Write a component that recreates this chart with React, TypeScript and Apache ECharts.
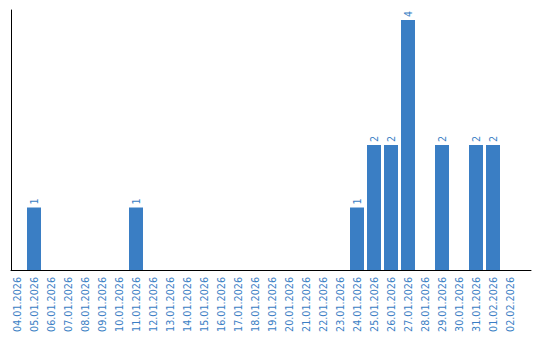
import React, { useEffect, useRef } from "react";
import * as echarts from "echarts";

const categories = [
  "04.01.2026", "05.01.2026", "06.01.2026", "07.01.2026", "08.01.2026",
  "09.01.2026", "10.01.2026", "11.01.2026", "12.01.2026", "13.01.2026",
  "14.01.2026", "15.01.2026", "16.01.2026", "17.01.2026", "18.01.2026",
  "19.01.2026", "20.01.2026", "21.01.2026", "22.01.2026", "23.01.2026",
  "24.01.2026", "25.01.2026", "26.01.2026", "27.01.2026", "28.01.2026",
  "29.01.2026", "30.01.2026", "31.01.2026", "01.02.2026", "02.02.2026",
];
const values = [
  0, 1, 0, 0, 0, 0, 0, 1, 0, 0,
  0, 0, 0, 0, 0, 0, 0, 0, 0, 0,
  1, 2, 2, 4, 0, 2, 0, 2, 2, 0,
];

const BLUE = "#3a7ec4";
const FONT = "'DejaVu Sans', Verdana, sans-serif";

export default function App() {
  const ref = useRef<HTMLDivElement>(null);
  useEffect(() => {
    if (!ref.current) return;
    const chart = echarts.init(ref.current, undefined, { renderer: "svg" });
    chart.setOption({
      animation: false,
      grid: [
        { left: 8.5, width: 510, top: 10, height: 260 },
        { left: 11, right: 9, top: 10, height: 260 },
      ],
      xAxis: [
        {
          type: "category",
          gridIndex: 0,
          data: categories,
          axisLine: { show: false },
          axisTick: { show: false },
          splitLine: { show: false },
          axisLabel: {
            rotate: 90,
            interval: 0,
            margin: 7,
            color: BLUE,
            fontSize: 9.6,
            fontFamily: FONT,
          },
        },
        {
          type: "value",
          gridIndex: 1,
          min: 0,
          max: 1,
          axisLine: { show: true, lineStyle: { color: "#000", width: 1 } },
          axisTick: { show: false },
          axisLabel: { show: false },
          splitLine: { show: false },
        },
      ],
      yAxis: [
        {
          type: "value",
          gridIndex: 0,
          min: 0,
          max: 4.16,
          show: false,
          splitLine: { show: false },
        },
        {
          type: "value",
          gridIndex: 1,
          min: 0,
          max: 1,
          axisLine: { show: true, lineStyle: { color: "#000", width: 1 } },
          axisTick: { show: false },
          axisLabel: { show: false },
          splitLine: { show: false },
        },
      ],
      series: [
        {
          type: "bar",
          xAxisIndex: 0,
          yAxisIndex: 0,
          data: values.map((v) => (v === 0 ? null : v)),
          barWidth: 14,
          itemStyle: { color: BLUE },
          label: {
            show: true,
            position: "top",
            rotate: 90,
            align: "left",
            verticalAlign: "middle",
            distance: 3,
            color: BLUE,
            fontSize: 9.6,
            fontFamily: FONT,
          },
        },
      ],
    });
    return () => chart.dispose();
  }, []);
  return <div ref={ref} style={{ width: 540, height: 340, margin: -8 }} />;
}
